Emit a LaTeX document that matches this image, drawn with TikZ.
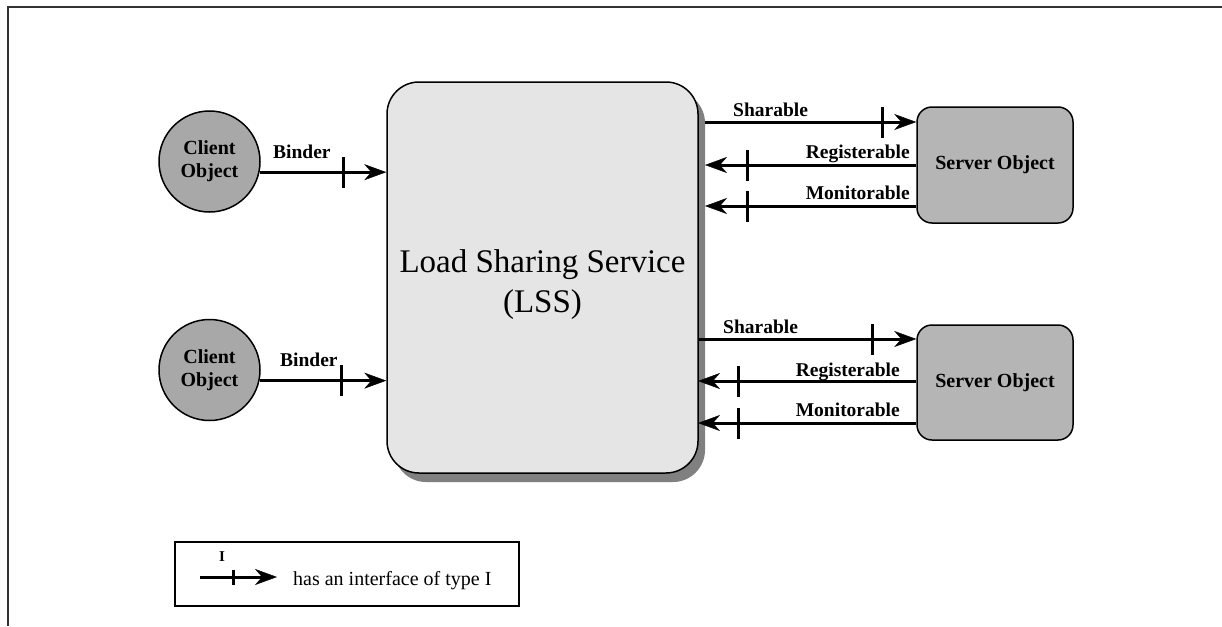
\documentclass[tikz,border=0pt]{standalone}
\usepackage{fontspec}
\setmainfont{Liberation Serif}
\usetikzlibrary{arrows.meta,shadows}

\begin{document}
\begin{tikzpicture}[x=1pt,y=-1pt,
  iface/.style={line width=3pt,-{Stealth[length=22pt,width=16pt,inset=7pt,line width=0.5pt]}},
  tickmark/.style={fill=black,inner sep=0pt,minimum width=3pt,minimum height=#1},
  tickmark/.default=31pt,
  lab/.style={inner sep=0pt,font=\fontsize{19.5}{22}\selectfont\bfseries},
  client/.style={circle,draw,line width=1.5pt,fill=black!34,minimum size=101pt,inner sep=0pt,
    align=center,font=\fontsize{20}{23}\selectfont\bfseries},
  server/.style={rectangle,rounded corners=15pt,draw,line width=1.5pt,fill=black!29,
    minimum width=156pt,minimum height=116pt,inner sep=0pt,font=\fontsize{20}{23}\selectfont\bfseries},
  lssbox/.style={rectangle,rounded corners=32pt,draw,line width=1.5pt,fill=black!10,
    minimum width=311pt,minimum height=391pt,inner sep=0pt,
    drop shadow={shadow xshift=7pt,shadow yshift=-9pt,fill=black!50,opacity=1}},
  legbox/.style={rectangle,draw,line width=1.5pt,minimum width=344pt,minimum height=64pt,inner sep=0pt}
]
\useasboundingbox (0,0) rectangle (1222,626);

% outer frame (left and top edges)
\draw[line width=2pt,black!80] (8,626) -- (8,7) -- (1222,7);

% central service
\node[lssbox] (lss) at (542.5,277.5) {};
\node[align=center,inner sep=0pt,font=\fontsize{33}{40}\selectfont] (lsslabel)
  at ([yshift=-7pt]lss.center) {Load Sharing Service\\(LSS)};

% clients
\node[client] (cl1) at (209.5,161.5) {Client\\Object};
\node[client] (cl2) at (209.5,370) {Client\\Object};

% servers
\node[server] (srv1) at (995,165) {Server Object};
\node[server,minimum height=115pt] (srv2) at (995,382.5) {Server Object};

% binder interfaces
\draw[iface] (cl1.-12) -- node[tickmark,pos=0.666]{} (lss.west |- cl1.-12);
\draw[iface] (cl2.-12) -- node[tickmark,pos=0.65]{} (lss.west |- cl2.-12);
\node[lab,anchor=base west] (bind1) at (273,158.5) {Binder};
\node[lab,anchor=base west] (bind2) at (280,366.5) {Binder};

% upper server interfaces
\coordinate (ush) at (705,122);
\coordinate (urg) at (705,165);
\coordinate (umo) at (705,206);
\draw[iface] (ush) -- node[tickmark,pos=0.84]{} (srv1.west |- ush);
\draw[iface] (srv1.west |- urg) -- node[tickmark,pos=0.797]{} (urg);
\draw[iface] (srv1.west |- umo) -- node[tickmark,pos=0.797]{} (umo);
\node[lab,anchor=base west] (ushl) at (733,116.5) {Sharable};
\node[lab,anchor=base east] (urgl) at (910,158) {Registerable};
\node[lab,anchor=base east] (umol) at (910,199.5) {Monitorable};

% lower server interfaces
\coordinate (lsh) at (698,339);
\coordinate (lrg) at (698,381);
\coordinate (lmo) at (698,423);
\draw[iface] (lsh) -- node[tickmark,pos=0.80]{} (srv2.west |- lsh);
\draw[iface] (srv2.west |- lrg) -- node[tickmark,pos=0.813]{} (lrg);
\draw[iface] (srv2.west |- lmo) -- node[tickmark,pos=0.813]{} (lmo);
\node[lab,anchor=base west] (lshl) at (723,333.5) {Sharable};
\node[lab,anchor=base east] (lrgl) at (900,376.5) {Registerable};
\node[lab,anchor=base east] (lmol) at (900,416.5) {Monitorable};

% legend
\node[legbox] (leg) at (347,574) {};
\coordinate (lega) at (200,577);
\coordinate (legb) at (277,577);
\draw[iface] (lega) -- node[tickmark=15pt,pos=0.43]{} (legb);
\node[inner sep=0pt,font=\fontsize{15}{17}\selectfont\bfseries] (legi) at (222,557) {I};
\node[inner sep=0pt,anchor=base west,font=\fontsize{20}{23}\selectfont] (legt) at (293,585)
  {has an interface of type I};
\end{tikzpicture}
\end{document}
